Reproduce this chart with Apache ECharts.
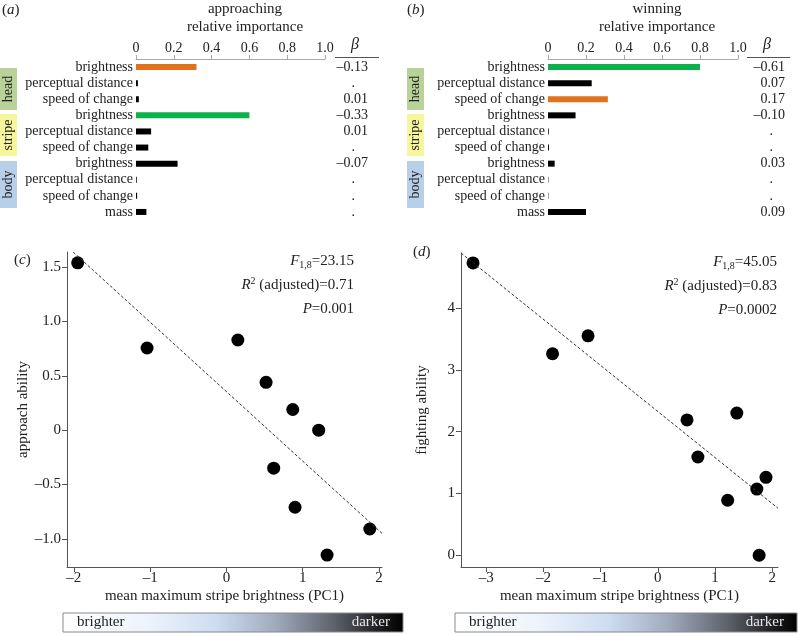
<!DOCTYPE html>
<html>
<head>
<meta charset="utf-8">
<script src="https://cdn.jsdelivr.net/npm/echarts@6/dist/echarts.min.js"></script>
<style>
  html, body { margin: 0; padding: 0; background: #fff; }
  #chart { width: 798px; height: 634px; }
</style>
</head>
<body>
<div id="chart"></div>
<script>
const SERIF = '"Liberation Serif", "DejaVu Serif", serif';

// rows of the relative importance panels (top to bottom)
const traitNames = ['brightness', 'perceptual distance', 'speed of change',
                    'brightness', 'perceptual distance', 'speed of change',
                    'brightness', 'perceptual distance', 'speed of change', 'mass'];
const rowIds = traitNames.map((n, i) => 'r' + i);

// (a) approaching
const importanceA = [0.32, 0.01, 0.015, 0.60, 0.08, 0.065, 0.22, 0.004, 0.006, 0.055];
const betaA = [-0.13, null, 0.01, -0.33, 0.01, null, -0.07, null, null, null];
// (b) winning
const importanceB = [0.80, 0.23, 0.315, 0.145, 0.004, 0.005, 0.035, 0.002, 0.002, 0.20];
const betaB = [-0.61, 0.07, 0.17, -0.10, null, null, 0.03, null, null, 0.09];

// (c) approach ability vs stripe brightness
const stripeC = [-1.95, -1.04, 0.15, 0.52, 0.87, 1.21, 0.62, 0.90, 1.32, 1.88];
const approach = [1.54, 0.756, 0.83, 0.44, 0.19, 0.0, -0.35, -0.71, -1.15, -0.91];
const fitC = [[-2.01, 1.64], [2.04, -0.95]];
const statsC = ['23.15', '0.71', '0.001'];
const ticksCx = [-2, -1, 0, 1, 2];
const ticksCy = [-1, -0.5, 0, 0.5, 1, 1.5];

// (d) fighting ability vs stripe brightness
const stripeD = [-3.23, -1.84, -1.22, 0.51, 1.38, 0.70, 1.22, 1.73, 1.89, 1.77];
const fighting = [4.73, 3.26, 3.55, 2.19, 2.30, 1.59, 0.89, 1.07, 1.26, 0.0];
const fitD = [[-3.44, 4.89], [2.10, 0.76]];
const statsD = ['45.05', '0.83', '0.0002'];
const ticksDx = [-3, -2, -1, 0, 1, 2];
const ticksDy = [0, 1, 2, 3, 4];

const dash = v => (v < 0 ? '\u2013' : '') + Math.abs(v);
const fmt1 = v => v === 0 ? '0' : (v < 0 ? '\u2013' : '') + Math.abs(v).toFixed(1);
const fmtBeta = v => v == null ? '{d|.}' : (v < 0 ? '\u2013' : '') + Math.abs(v).toFixed(2);

// largest bar green, second largest orange, rest black
function barData(vals) {
  const sorted = vals.slice().sort((a, b) => b - a);
  return vals.map(v => ({
    value: v,
    itemStyle: { color: v === sorted[0] ? '#0db14b' : v === sorted[1] ? '#e2711d' : '#000' }
  }));
}

function importanceAxes(grid, betaMargin, dotPad) {
  return {
    x: {
      gridIndex: grid, type: 'value', position: 'top', min: 0, max: 1, interval: 0.2,
      axisLine: { show: true, lineStyle: { color: '#aaa' } },
      axisTick: { show: true, length: 4, lineStyle: { color: '#aaa' } },
      axisLabel: { margin: 4, fontSize: 14, fontFamily: SERIF, color: '#222',
                   formatter: v => v === 0 ? '0' : v.toFixed(1) },
      splitLine: { show: false }
    },
    y: [{
      gridIndex: grid, type: 'category', data: rowIds, inverse: true,
      axisLine: { show: false }, axisTick: { show: false },
      axisLabel: { interval: 0, margin: 3, fontSize: 14, fontFamily: SERIF, color: '#222',
                   formatter: (v, i) => traitNames[i] }
    }, {
      gridIndex: grid, type: 'category', data: rowIds, inverse: true, position: 'right',
      axisLine: { show: false }, axisTick: { show: false },
      axisLabel: { interval: 0, margin: betaMargin, align: 'right', fontSize: 14,
                   fontFamily: SERIF, color: '#222',
                   formatter: (v, i) => fmtBeta(grid === 0 ? betaA[i] : betaB[i]),
                   rich: { d: { fontSize: 14, fontFamily: SERIF, padding: [0, dotPad, 0, 0] } } }
    }]
  };
}

function scatterX(grid, min, max, ticks, fmt) {
  return {
    gridIndex: grid, type: 'value', min: min, max: max,
    axisLine: { show: true, onZero: false, lineStyle: { color: '#555' } },
    axisTick: { show: true, length: 5, customValues: ticks, lineStyle: { color: '#555' } },
    axisLabel: { customValues: ticks, formatter: fmt, margin: 4, fontSize: 15,
                 fontFamily: SERIF, color: '#222' },
    splitLine: { show: false },
    name: 'mean maximum stripe brightness (PC1)', nameLocation: 'middle', nameGap: 22,
    nameTextStyle: { fontSize: 15, fontFamily: SERIF, color: '#222' }
  };
}

function scatterY(grid, min, max, ticks, fmt, name, gap) {
  return {
    gridIndex: grid, type: 'value', min: min, max: max,
    axisLine: { show: true, onZero: false, lineStyle: { color: '#555' } },
    axisTick: { show: true, length: 5, customValues: ticks, lineStyle: { color: '#555' } },
    axisLabel: { customValues: ticks, formatter: fmt, margin: 6, fontSize: 15,
                 fontFamily: SERIF, color: '#222' },
    splitLine: { show: false },
    name: name, nameLocation: 'middle', nameGap: gap,
    nameTextStyle: { fontSize: 15, fontFamily: SERIF, color: '#222' }
  };
}

const axA = importanceAxes(0, 43, 13);
const axB = importanceAxes(1, 47, 12);

function txt(x, y, text, extra) {
  return { type: 'text', x: x, y: y, silent: true,
           style: Object.assign({ text: text, fontSize: 15, fontFamily: SERIF, fill: '#222',
                                  align: 'left', verticalAlign: 'middle' }, extra || {}) };
}

const italicRich = {
  i: { fontStyle: 'italic', fontSize: 15, fontFamily: SERIF, lineHeight: 18 },
  n: { fontSize: 15, fontFamily: SERIF, lineHeight: 18 },
  s: { fontSize: 10, fontFamily: SERIF, lineHeight: 9, verticalAlign: 'bottom' },
  u: { fontSize: 10, fontFamily: SERIF, lineHeight: 9, verticalAlign: 'top' }
};

function statsBlock(right, top, stats) {
  return [
    txt(right, top, '{i|F}{s|1,8}{n|=' + stats[0] + '}', { align: 'right', rich: italicRich }),
    txt(right, top + 24, '{i|R}{u|2}{n| (adjusted)=' + stats[1] + '}', { align: 'right', rich: italicRich }),
    txt(right, top + 48, '{i|P}{n|=' + stats[2] + '}', { align: 'right', rich: italicRich })
  ];
}

function groupBoxes(x) {
  const items = [['head', 68, 42, '#b8d29a'], ['stripe', 114, 42, '#f6f69c'], ['body', 161, 47, '#b8cfea']];
  const out = [];
  items.forEach(it => {
    out.push({ type: 'rect', silent: true, shape: { x: x, y: it[1], width: 17, height: it[2] },
               style: { fill: it[3] } });
    out.push({ type: 'text', silent: true, x: x + 8.5, y: it[1] + it[2] / 2, rotation: Math.PI / 2,
               style: { text: it[0], fontSize: 14, fontFamily: SERIF, fill: '#222',
                        align: 'center', verticalAlign: 'middle' } });
  });
  return out;
}

function gradientBar(x, w) {
  return [
    { type: 'rect', silent: true, shape: { x: x, y: 613, width: w, height: 19 },
      style: { stroke: '#8a8a8a', lineWidth: 1,
               fill: { type: 'linear', x: 0, y: 0, x2: 1, y2: 0, colorStops: [
                 { offset: 0, color: '#ffffff' }, { offset: 0.25, color: '#edf3fc' },
                 { offset: 0.45, color: '#cddcf2' }, { offset: 0.62, color: '#a2acc0' },
                 { offset: 0.8, color: '#5d6069' }, { offset: 0.93, color: '#1d1d20' },
                 { offset: 1, color: '#000' }] } } },
    txt(x + 14, 622.5, 'brighter', { fill: '#222' }),
    txt(x + w - 13, 622.5, 'darker', { align: 'right', fill: '#e6e6e6' })
  ];
}

const panelRich = { i: { fontStyle: 'italic', fontSize: 15, fontFamily: SERIF } };

const graphics = [].concat(
  [
    txt(2, 10, '({i|a})', { rich: panelRich }),
    txt(407, 10, '({i|b})', { rich: panelRich }),
    txt(14, 260, '({i|c})', { rich: panelRich }),
    txt(413, 252, '({i|d})', { rich: panelRich }),
    txt(245, 9, 'approaching', { align: 'center' }),
    txt(245, 27, 'relative importance', { align: 'center' }),
    txt(657, 9, 'winning', { align: 'center' }),
    txt(657, 27, 'relative importance', { align: 'center' }),
    txt(355, 45, '\u03b2', { align: 'center', fontStyle: 'italic', fontSize: 16 }),
    txt(767, 45, '\u03b2', { align: 'center', fontStyle: 'italic', fontSize: 16 }),
    { type: 'line', silent: true, shape: { x1: 335, y1: 57.5, x2: 379, y2: 57.5 }, style: { stroke: '#555', lineWidth: 1 } },
    { type: 'line', silent: true, shape: { x1: 747, y1: 57.5, x2: 790, y2: 57.5 }, style: { stroke: '#555', lineWidth: 1 } }
  ],
  groupBoxes(0), groupBoxes(407),
  statsBlock(354, 261, statsC), statsBlock(777, 262, statsD),
  gradientBar(63, 340), gradientBar(455, 342)
);

const option = {
  animation: false,
  backgroundColor: '#fff',
  grid: [
    { left: 136, top: 59, width: 189, height: 161 },
    { left: 548, top: 59, width: 190, height: 161 },
    { left: 67, top: 252, width: 315, height: 315 },
    { left: 461, top: 253, width: 317, height: 314 }
  ],
  xAxis: [
    axA.x, axB.x,
    scatterX(2, -2.09, 2.04, ticksCx, dash),
    scatterX(3, -3.44, 2.10, ticksDx, dash)
  ],
  yAxis: [
    axA.y[0], axA.y[1], axB.y[0], axB.y[1],
    scatterY(2, -1.26, 1.64, ticksCy, fmt1, 'approach ability', 36),
    scatterY(3, -0.19, 4.89, ticksDy, dash, 'fighting ability', 31)
  ],
  series: [
    { type: 'bar', xAxisIndex: 0, yAxisIndex: 0, barWidth: 6, data: barData(importanceA) },
    { type: 'bar', xAxisIndex: 1, yAxisIndex: 2, barWidth: 6, data: barData(importanceB) },
    { type: 'line', xAxisIndex: 2, yAxisIndex: 4, data: fitC, symbol: 'none',
      lineStyle: { color: '#333', width: 1, type: [3, 2] } },
    { type: 'scatter', xAxisIndex: 2, yAxisIndex: 4, symbolSize: 13,
      itemStyle: { color: '#000', opacity: 1 },
      data: stripeC.map((x, i) => [x, approach[i]]) },
    { type: 'line', xAxisIndex: 3, yAxisIndex: 5, data: fitD, symbol: 'none',
      lineStyle: { color: '#333', width: 1, type: [3, 2] } },
    { type: 'scatter', xAxisIndex: 3, yAxisIndex: 5, symbolSize: 13,
      itemStyle: { color: '#000', opacity: 1 },
      data: stripeD.map((x, i) => [x, fighting[i]]) }
  ],
  graphic: graphics
};

const chart = echarts.init(document.getElementById('chart'), null, { renderer: 'canvas' });
chart.setOption(option);
</script>
</body>
</html>
